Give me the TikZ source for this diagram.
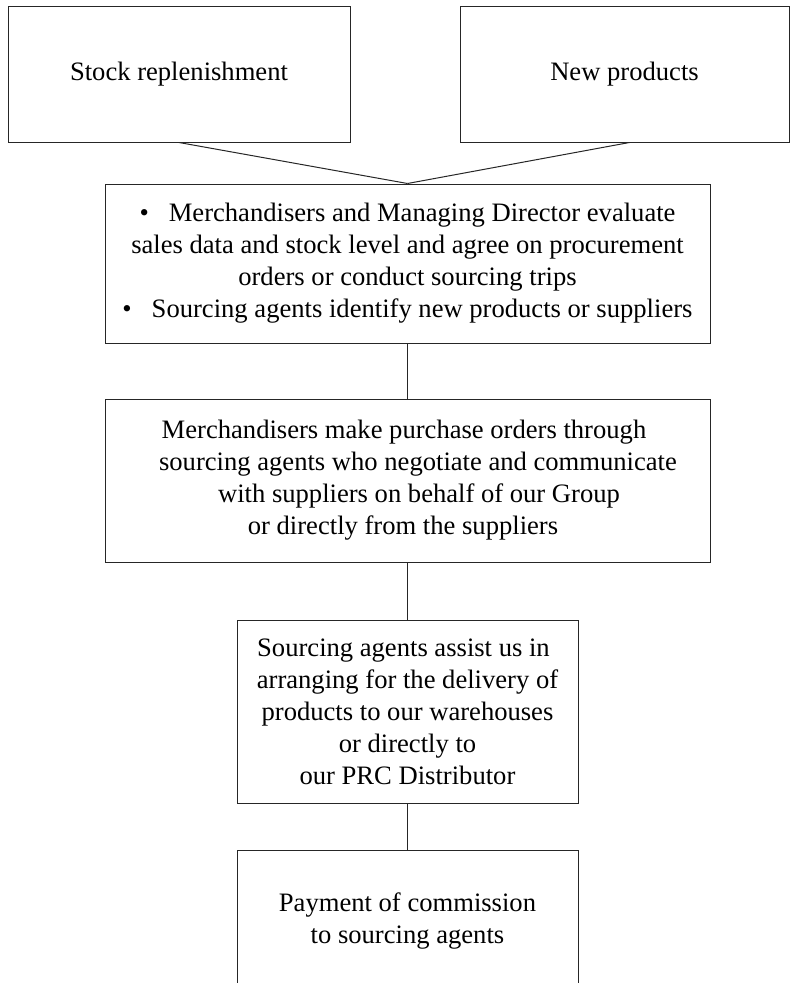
\documentclass[tikz,border=0pt]{standalone}
\usepackage{fontspec}
\setmainfont{Liberation Serif}
\begin{document}
\begin{tikzpicture}[x=1pt,y=-1pt,
  box/.style={draw=black!85, line width=1pt, align=center, inner sep=0pt,
    font=\fontsize{26.6}{32}\selectfont},
  link/.style={draw=black!85, line width=1pt}]
\useasboundingbox (0,0) rectangle (790,983);
\node[box, minimum width=342pt, minimum height=136pt] (b1) at (179,74) {Stock replenishment};
\node[box, minimum width=329pt, minimum height=136pt] (b2) at (624.5,74) {New products};
\node[box, minimum width=605pt, minimum height=159pt] (b3) at (407.5,263.5)
  {\textbullet\hspace{0.75em}Merchandisers and Managing Director evaluate\\
   sales data and stock level and agree on procurement\\
   orders or conduct sourcing trips\\
   \textbullet\hspace{0.75em}Sourcing agents identify new products or suppliers};
\node[box, minimum width=605pt, minimum height=163pt] (b4) at (407.5,480.5)
  {Merchandisers make purchase orders through\hspace*{7pt}\\
   \hspace*{21pt}sourcing agents who negotiate and communicate\\
   \hspace*{23pt}with suppliers on behalf of our Group\\
   or directly from the suppliers\hspace*{9pt}};
\node[box, minimum width=341pt, minimum height=183pt] (b5) at (407.5,711.5)
  {Sourcing agents assist us in\hspace*{8pt}\\
   arranging for the delivery of\\
   products to our warehouses\\
   or directly to\\
   our PRC Distributor};
\node[box, minimum width=341pt, minimum height=142pt] (b6) at (407.5,921)
  {Payment of commission\\
   to sourcing agents};
\draw[link] (b1.south) -- (b3.north);
\draw[link] ([xshift=5pt]b2.south) -- (b3.north);
\draw[link] (b3) -- (b4);
\draw[link] (b4) -- (b5);
\draw[link] (b5) -- (b6);
\end{tikzpicture}
\end{document}
